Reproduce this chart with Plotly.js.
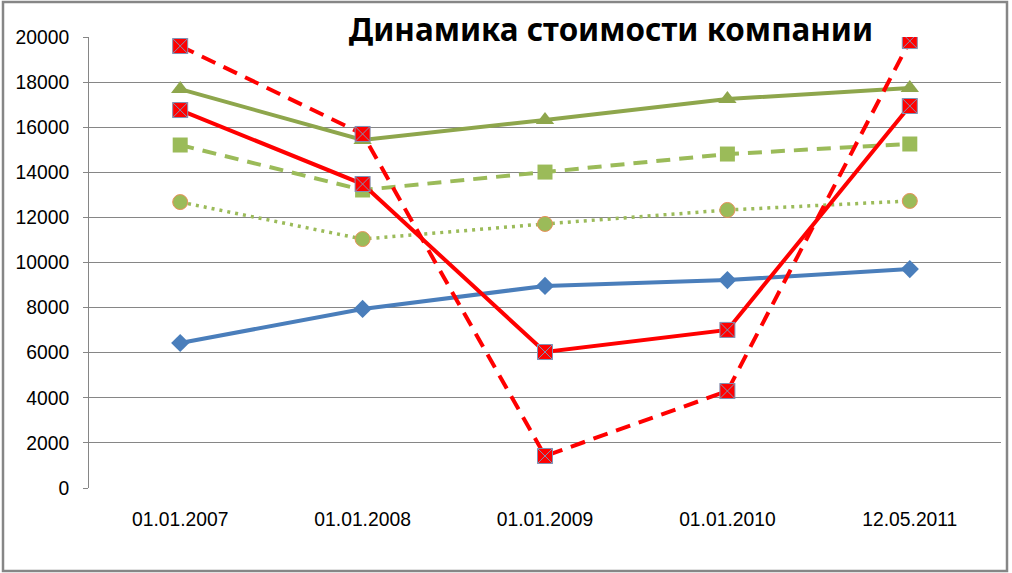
<!DOCTYPE html>
<html>
<head>
<meta charset="utf-8">
<script src="https://cdn.plot.ly/plotly-3.0.1.min.js"></script>
<style>
html,body{margin:0;padding:0;background:#fff;}
#chart{width:1012px;height:573px;}
</style>
</head>
<body>
<div id="chart"></div>
<script>
var categories = ["01.01.2007", "01.01.2008", "01.01.2009", "01.01.2010", "12.05.2011"];
var blueDiamond = [6430, 7940, 8960, 9220, 9710];
var greenTriangle = [17690, 15430, 16320, 17250, 17740];
var greenSquare = [15210, 13215, 14010, 14810, 15255];
var greenCircle = [12680, 11040, 11710, 12330, 12730];
var redSolid = [16760, 13480, 6030, 7010, 16940];
var redDashed = [19600, 15700, 1420, 4300, 19820];
var yTicks = [0, 2000, 4000, 6000, 8000, 10000, 12000, 14000, 16000, 18000, 20000];
var titleText = "Динамика стоимости компании";

var traces = [
  {x: categories, y: blueDiamond, mode: "lines+markers",
   line: {color: "#4A7EBB", width: 4},
   marker: {symbol: "diamond", size: 14, color: "#4A7EBB"}},
  {x: categories, y: greenTriangle, mode: "lines+markers",
   line: {color: "#8EA64C", width: 4},
   marker: {symbol: "triangle-up", size: 16, color: "#8EA64C"}},
  {x: categories, y: greenSquare, mode: "lines+markers",
   line: {color: "#9BBB59", width: 4, dash: "14px,9px"},
   marker: {symbol: "square", size: 15, color: "#9BBB59"}},
  {x: categories, y: greenCircle, mode: "lines+markers",
   line: {color: "#9BBB59", width: 3.5, dash: "3px,5px"},
   marker: {symbol: "circle", size: 15, color: "#9BBB59", line: {color: "#E8915A", width: 1}}},
  {x: categories, y: redSolid, mode: "lines+markers",
   line: {color: "#FF0000", width: 4},
   marker: {symbol: "square-x", size: 15, color: "#FF0000", line: {color: "#7F93B5", width: 1}}},
  {x: categories, y: redDashed, mode: "lines+markers",
   line: {color: "#FF0000", width: 4, dash: "15px,9px"},
   marker: {symbol: "square-x", size: 15, color: "#FF0000", line: {color: "#7F93B5", width: 1}}}
];

var layout = {
  width: 1012, height: 573,
  margin: {l: 89, r: 11, t: 37, b: 85, pad: 0},
  paper_bgcolor: "#FFFFFF", plot_bgcolor: "#FFFFFF",
  showlegend: false,
  font: {family: "Liberation Sans, Arial, sans-serif", size: 19, color: "#000000"},
  title: {text: "<b>" + titleText + "</b>", xref: "container", yref: "container",
          x: 611/1012, xanchor: "center", y: 1 - 30/573, yanchor: "middle",
          font: {family: "Noto Sans, sans-serif", size: 31.4, color: "#000000"}},
  xaxis: {type: "category", range: [-0.5, 4.5], showgrid: false, zeroline: false,
          showline: false, ticks: "", ticklabelstandoff: 18,
          tickfont: {size: 19.3, color: "#000000"}},
  yaxis: {range: [0, 20000], tickvals: yTicks, ticktext: yTicks.map(String),
          showgrid: true, gridcolor: "#868686", gridwidth: 1, zeroline: false,
          showline: true, linecolor: "#868686", linewidth: 1,
          ticks: "outside", ticklen: 5, tickcolor: "#868686", ticklabelstandoff: 10,
          tickfont: {size: 19.3, color: "#000000"}},
  shapes: [
    {type: "rect", xref: "paper", yref: "paper",
     x0: (3-89)/912, x1: (1007-89)/912, y0: (488-571)/451, y1: (488-2)/451,
     line: {color: "#868686", width: 2.5}, fillcolor: "rgba(0,0,0,0)", layer: "above"}
  ]
};

Plotly.newPlot("chart", traces, layout, {staticPlot: true, displayModeBar: false});
</script>
</body>
</html>
